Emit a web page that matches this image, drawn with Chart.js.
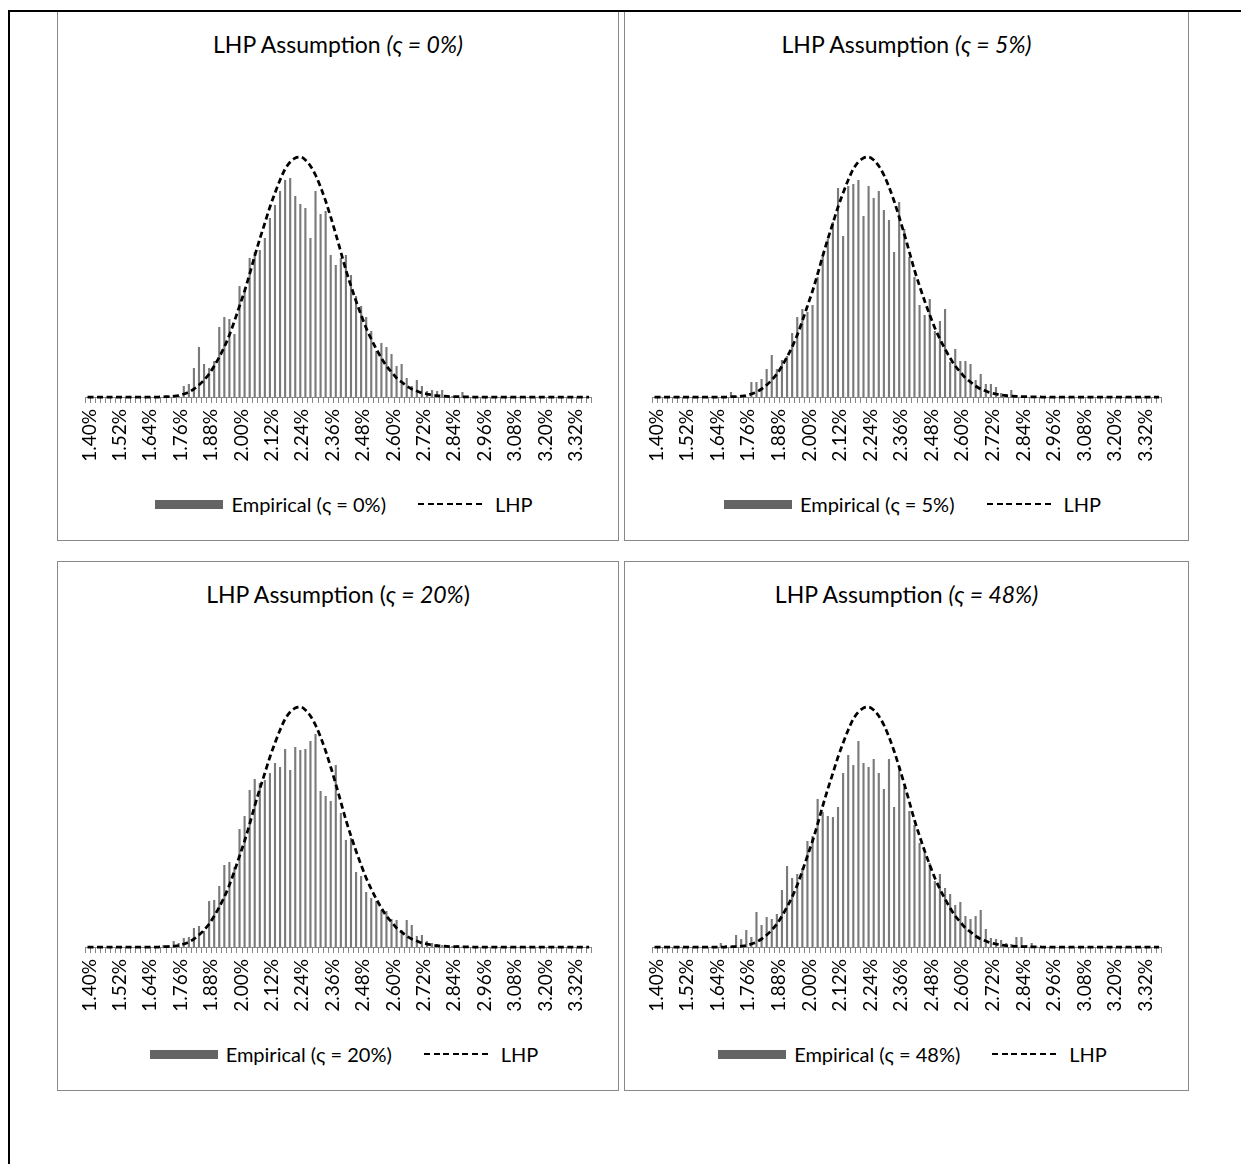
<!DOCTYPE html>
<html lang="en">
<head>
<meta charset="UTF-8">
<title>LHP Assumption</title>
<script src="https://cdn.jsdelivr.net/npm/chart.js@4"></script>
<style>
  body { margin: 0; background: #fff; width: 1241px; height: 1164px; position: relative; overflow: hidden; font-family: Lato, "Open Sans", sans-serif; color: #000; }
  .frame-top { position: absolute; left: 8px; top: 10px; right: 0; height: 2px; background: #000; z-index: 5; }
  .frame-left { position: absolute; left: 8px; top: 10px; bottom: 0; width: 2px; background: #000; z-index: 5; }
  .panel { position: absolute; height: 530px; border: 1px solid #898989; box-sizing: border-box; background: #fff; }
  .left { left: 57px; width: 562px; }
  .right { left: 624px; width: 565px; }
  .title { position: absolute; left: 0; right: 0; top: 21px; line-height: 23px; text-align: center; font-size: 23px; }
  .panel canvas { position: absolute; left: 0; top: 108px; }
  .legend { position: absolute; left: 0; right: 0; top: 482px; height: 20px; padding-left: 12px; display: flex; justify-content: center; align-items: center; font-size: 20px; }
  .swatch { width: 68px; height: 9px; background: #646464; margin-right: 8px; }
  .dash { width: 67px; height: 2.5px; margin: 0 10px 0 32px; background: repeating-linear-gradient(to right, #000 0 6px, transparent 6px 9.6px); }
</style>
</head>
<body>
  <div class="panel left" style="top:11px">
    <div class="title">LHP Assumption <i>(ς = 0%)</i></div>
    <canvas id="c1" width="560" height="360"></canvas>
    <div class="legend"><span class="swatch"></span>Empirical (ς = 0%)<span class="dash"></span>LHP</div>
  </div>
  <div class="panel right" style="top:11px">
    <div class="title">LHP Assumption <i>(ς = 5%)</i></div>
    <canvas id="c2" width="563" height="360"></canvas>
    <div class="legend"><span class="swatch"></span>Empirical (ς = 5%)<span class="dash"></span>LHP</div>
  </div>
  <div class="panel left" style="top:561px">
    <div class="title">LHP Assumption (<i>ς = 20%</i>)</div>
    <canvas id="c3" width="560" height="360"></canvas>
    <div class="legend"><span class="swatch"></span>Empirical (ς = 20%)<span class="dash"></span>LHP</div>
  </div>
  <div class="panel right" style="top:561px">
    <div class="title">LHP Assumption <i>(ς = 48%)</i></div>
    <canvas id="c4" width="563" height="360"></canvas>
    <div class="legend"><span class="swatch"></span>Empirical (ς = 48%)<span class="dash"></span>LHP</div>
  </div>
  <div class="frame-top"></div>
  <div class="frame-left"></div>

<script>
// loss rate buckets (0.02% wide)
const categories = [
  '1.40%', '1.42%', '1.44%', '1.46%', '1.48%', '1.50%', '1.52%', '1.54%', '1.56%', '1.58%',
  '1.60%', '1.62%', '1.64%', '1.66%', '1.68%', '1.70%', '1.72%', '1.74%', '1.76%', '1.78%',
  '1.80%', '1.82%', '1.84%', '1.86%', '1.88%', '1.90%', '1.92%', '1.94%', '1.96%', '1.98%',
  '2.00%', '2.02%', '2.04%', '2.06%', '2.08%', '2.10%', '2.12%', '2.14%', '2.16%', '2.18%',
  '2.20%', '2.22%', '2.24%', '2.26%', '2.28%', '2.30%', '2.32%', '2.34%', '2.36%', '2.38%',
  '2.40%', '2.42%', '2.44%', '2.46%', '2.48%', '2.50%', '2.52%', '2.54%', '2.56%', '2.58%',
  '2.60%', '2.62%', '2.64%', '2.66%', '2.68%', '2.70%', '2.72%', '2.74%', '2.76%', '2.78%',
  '2.80%', '2.82%', '2.84%', '2.86%', '2.88%', '2.90%', '2.92%', '2.94%', '2.96%', '2.98%',
  '3.00%', '3.02%', '3.04%', '3.06%', '3.08%', '3.10%', '3.12%', '3.14%', '3.16%', '3.18%',
  '3.20%', '3.22%', '3.24%', '3.26%', '3.28%', '3.30%', '3.32%', '3.34%', '3.36%', '3.38%'
];

// LHP density (same curve in all four panels)
const lhp = [
  0, 0, 0, 0, 0, 0, 0, 0, 0, 0,
  0, 0, 0, 0, 0, 0.2, 0.4, 0.8, 1.5, 3,
  5, 8, 12, 17, 23, 31, 40, 50, 62, 76,
  91, 106, 123, 141, 158, 174, 190, 204, 217, 228,
  235, 239, 240, 237, 231, 222, 210, 196, 180, 163,
  145, 127, 111, 96, 82, 69, 58, 48, 39, 31,
  25, 19, 15, 11, 8, 6, 4, 3, 2, 1.3,
  0.9, 0.6, 0.4, 0.3, 0.2, 0.1, 0, 0, 0, 0,
  0, 0, 0, 0, 0, 0, 0, 0, 0, 0,
  0, 0, 0, 0, 0, 0, 0, 0, 0, 0
];

const empirical0 = [
  0, 0, 0, 0, 0, 0, 0, 0, 0, 0,
  0, 0, 0, 0, 0, 0, 1, 2, 1, 11,
  13, 29, 50, 33, 29, 36, 70, 80, 78, 63,
  111, 106, 139, 145, 147, 159, 179, 192, 206, 217,
  219, 201, 193, 189, 159, 206, 183, 186, 142, 132,
  139, 142, 122, 101, 91, 80, 66, 46, 54, 50,
  43, 31, 33, 19, 11, 17, 11, 6, 7, 6,
  7, 1, 1, 1, 5, 0.5, 0, 0, 0, 0,
  0, 0, 0, 0, 0, 0, 0, 0, 0, 0,
  0, 0, 0, 0, 0, 0, 0, 0, 0, 0
];

const empirical5 = [
  0, 0, 0, 0, 0, 0, 0, 0, 0, 0,
  0, 0, 0, 0, 0, 5, 1, 0, 0, 15,
  15, 18, 28, 42, 28, 37, 41, 64, 80, 88,
  85, 92, 120, 140, 158, 175, 209, 161, 211, 213,
  217, 181, 211, 199, 206, 187, 177, 145, 195, 168,
  140, 120, 92, 82, 98, 66, 76, 88, 35, 48,
  36, 36, 33, 17, 23, 13, 13, 10, 4, 3,
  7, 1, 0.5, 0, 0, 0, 0, 0, 0, 0,
  0, 0, 0, 0, 0, 0, 0, 0, 0, 0,
  0, 0, 0, 0, 0, 0, 0, 0, 0, 0
];

const empirical20 = [
  0, 0, 0, 0, 0, 0, 0, 0, 0, 0,
  0, 0, 0, 0, 0, 2, 2, 6, 4, 9,
  10, 19, 21, 16, 46, 47, 61, 82, 85, 80,
  118, 131, 157, 168, 164, 167, 174, 184, 180, 198,
  177, 200, 197, 198, 206, 213, 156, 151, 146, 182,
  134, 107, 109, 75, 71, 55, 49, 46, 37, 36,
  28, 27, 17, 27, 22, 11, 12, 6, 4, 3,
  2, 1, 1, 2, 0.5, 0, 0, 0, 0, 0,
  0, 0, 0, 0, 0, 0, 0, 0, 0, 0,
  0, 0, 0, 0, 0, 0, 0, 0, 0, 0
];

const empirical48 = [
  0, 0, 0, 0, 0, 0, 0, 0, 0, 0,
  0, 0, 0, 4, 2, 0.5, 12, 8, 17, 10,
  35, 22, 30, 28, 33, 57, 81, 69, 73, 79,
  106, 111, 148, 135, 131, 130, 140, 174, 192, 182,
  206, 184, 180, 188, 174, 158, 188, 140, 180, 160,
  136, 122, 104, 94, 84, 66, 73, 59, 53, 42,
  45, 31, 28, 31, 37, 18, 9, 8, 7, 4,
  3, 10, 10, 2, 4, 0.5, 0, 0, 0, 0,
  0, 0, 0, 0, 0, 0, 0, 0, 0, 0,
  0, 0, 0, 0, 0, 0, 0, 0, 0, 0
];

const labelEvery = 6;
const axisColor = '#868686';

function makeChart(id, empirical, rightPad) {
  return new Chart(document.getElementById(id), {
    type: 'bar',
    data: {
      labels: categories,
      datasets: [{
        type: 'line',
        label: 'LHP',
        data: lhp,
        borderColor: '#000',
        borderWidth: 2.75,
        borderDash: [6, 3.5],
        pointRadius: 0,
        cubicInterpolationMode: 'monotone',
        fill: false,
        clip: 6,
        order: 0
      }, {
        type: 'bar',
        label: 'Empirical',
        data: empirical,
        backgroundColor: '#7a7a7a',
        barPercentage: 0.42,
        categoryPercentage: 1,
        order: 1
      }]
    },
    options: {
      responsive: false,
      animation: false,
      devicePixelRatio: 1,
      layout: { padding: { left: 27, right: rightPad, top: 17, bottom: 0 } },
      plugins: { legend: { display: false }, tooltip: { enabled: false } },
      scales: {
        x: {
          offset: true,
          grid: { display: true, drawOnChartArea: false, drawTicks: true, tickLength: 6, color: axisColor, offset: true },
          border: { display: true, color: axisColor, width: 1 },
          ticks: {
            autoSkip: false,
            maxRotation: 90,
            minRotation: 90,
            padding: 6,
            labelOffset: 2,
            color: '#000',
            font: { family: 'Lato', size: 19 },
            callback: function(value, index) {
              return index % labelEvery === 0 ? this.getLabelForValue(value) : '';
            }
          },
          afterFit: function(scale) { scale.height = 83; }
        },
        y: { display: false, min: 0, max: 260 }
      }
    }
  });
}

makeChart('c1', empirical0, 20);
makeChart('c2', empirical5, 22);
makeChart('c3', empirical20, 20);
makeChart('c4', empirical48, 22);
</script>
</body>
</html>
